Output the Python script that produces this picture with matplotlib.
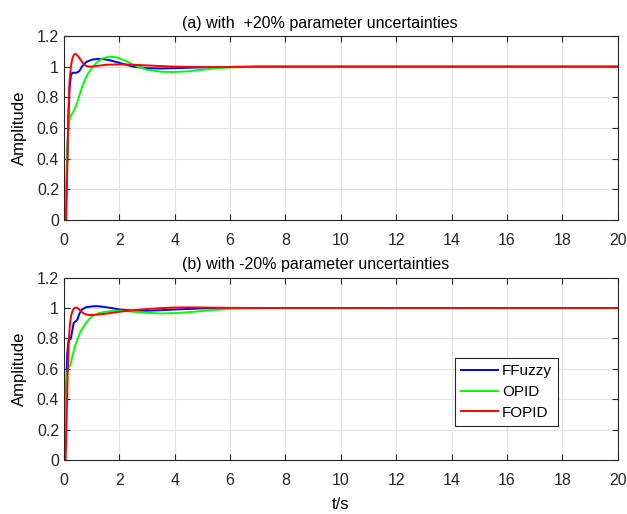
import matplotlib
matplotlib.use("Agg")
import matplotlib.pyplot as plt

# (a) +20% parameter uncertainties
ta_fuzzy = [0, 0.05, 0.1, 0.15, 0.2, 0.25, 0.3, 0.35, 0.45, 0.55, 0.65, 0.8, 1.0, 1.2,
            1.4, 1.7, 2.0, 2.5, 3.0, 3.5, 4.0, 5.0, 6.0, 7, 8, 20]
ya_fuzzy = [0, 0.0, 0.25, 0.6, 0.85, 0.94, 0.96, 0.96, 0.96, 0.97, 1.0, 1.03, 1.045, 1.05,
            1.05, 1.04, 1.025, 1.0, 0.99, 0.988, 0.99, 0.995, 0.998, 1.0, 1.0, 1.0]
ta_opid = [0, 0.05, 0.1, 0.15, 0.2, 0.25, 0.35, 0.45, 0.55, 0.7, 0.85, 1.0, 1.2, 1.4,
           1.65, 1.9, 2.2, 2.6, 3.0, 3.5, 4.0, 4.5, 5, 5.5, 6, 7, 8, 20]
ya_opid = [0, 0.0, 0.35, 0.58, 0.65, 0.68, 0.71, 0.75, 0.81, 0.89, 0.95, 0.99, 1.03, 1.055,
           1.065, 1.06, 1.04, 1.005, 0.98, 0.967, 0.965, 0.97, 0.98, 0.99, 0.995, 0.999, 1.0, 1.0]
ta_fopid = [0, 0.08, 0.12, 0.16, 0.2, 0.25, 0.3, 0.35, 0.4, 0.45, 0.5, 0.6, 0.7, 0.8,
            0.9, 1.0, 1.2, 1.5, 2.0, 2.5, 3.0, 3.5, 4.0, 5.0, 6.0, 7, 8, 20]
ya_fopid = [0, 0.0, 0.35, 0.7, 0.9, 1.0, 1.05, 1.075, 1.083, 1.08, 1.07, 1.045, 1.02, 1.005,
            1.0, 1.0, 1.005, 1.012, 1.015, 1.012, 1.008, 1.004, 1.0, 0.997, 0.998, 1.0, 1.0, 1.0]

# (b) -20% parameter uncertainties
tb_fuzzy = [0, 0.04, 0.08, 0.12, 0.16, 0.2, 0.25, 0.3, 0.35, 0.4, 0.45, 0.5, 0.55, 0.65,
            0.8, 1.0, 1.2, 1.4, 1.7, 2.0, 2.5, 3.0, 3.5, 4, 5, 6, 7, 8, 20]
yb_fuzzy = [0, 0.1, 0.45, 0.7, 0.78, 0.79, 0.8, 0.85, 0.9, 0.91, 0.915, 0.93, 0.96, 0.99,
            1.005, 1.01, 1.012, 1.008, 1.0, 0.99, 0.982, 0.982, 0.985, 0.99, 0.997, 1.0, 1.0, 1.0, 1.0]
tb_opid = [0, 0.04, 0.08, 0.12, 0.18, 0.24, 0.3, 0.4, 0.5, 0.6, 0.75, 0.9, 1.05, 1.25,
           1.5, 1.8, 2.1, 2.5, 3.0, 3.5, 4.0, 4.5, 5, 5.5, 6, 7, 8, 20]
yb_opid = [0, 0.15, 0.45, 0.58, 0.61, 0.63, 0.68, 0.75, 0.8, 0.845, 0.89, 0.925, 0.95, 0.965,
           0.975, 0.982, 0.982, 0.975, 0.968, 0.964, 0.966, 0.972, 0.98, 0.988, 0.994, 0.999, 1.0, 1.0]
tb_fopid = [0, 0.06, 0.1, 0.14, 0.18, 0.22, 0.26, 0.3, 0.35, 0.4, 0.45, 0.5, 0.55, 0.6,
            0.7, 0.8, 0.9, 1.0, 1.2, 1.5, 2.0, 2.5, 3.0, 3.5, 4.0, 4.5, 5, 6, 7, 8, 20]
yb_fopid = [0, 0.0, 0.3, 0.6, 0.8, 0.9, 0.95, 0.975, 0.995, 1.002, 1.003, 0.998, 0.99, 0.98,
            0.965, 0.957, 0.954, 0.953, 0.956, 0.962, 0.975, 0.985, 0.993, 0.999, 1.003, 1.004,
            1.003, 1.001, 1.0, 1.0, 1.0]

labels = ["FFuzzy", "OPID", "FOPID"]
colors = ["#0000ff", "#00ff00", "#ff0000"]
titles = ["(a) with  +20% parameter uncertainties", "(b) with -20% parameter uncertainties"]
xticks = [0, 2, 4, 6, 8, 10, 12, 14, 16, 18, 20]
yticks = [0, 0.2, 0.4, 0.6, 0.8, 1, 1.2]
ytick_labels = ["0", "0.2", "0.4", "0.6", "0.8", "1", "1.2"]

plt.rcParams.update({"font.family": "Liberation Sans", "font.size": 11})

fig = plt.figure(figsize=(6.27, 5.14), dpi=100)
ax_a = fig.add_axes([0.102, 0.572, 0.883, 0.358])
ax_b = fig.add_axes([0.102, 0.105, 0.883, 0.355])

panels = [
    (ax_a, [(ta_fuzzy, ya_fuzzy), (ta_opid, ya_opid), (ta_fopid, ya_fopid)]),
    (ax_b, [(tb_fuzzy, yb_fuzzy), (tb_opid, yb_opid), (tb_fopid, yb_fopid)]),
]

for (ax, series), title in zip(panels, titles):
    for (t, y), lab, c in zip(series, labels, colors):
        ax.plot(t, y, color=c, lw=1.4, label=lab)
    ax.set_xlim(0, 20)
    ax.set_ylim(0, 1.2)
    ax.set_xticks(xticks)
    ax.set_yticks(yticks)
    ax.set_yticklabels(ytick_labels)
    ax.grid(True, color="#e3e3e3", lw=0.8)
    ax.set_axisbelow(True)
    ax.tick_params(direction="in", top=True, right=True, length=4, width=0.8,
                   labelsize=11.5, colors="#262626")
    ax.tick_params(axis="x", pad=9.5)
    for s in ax.spines.values():
        s.set_color("#262626")
        s.set_linewidth(0.8)
    ax.set_ylabel("Amplitude", fontsize=12, labelpad=7)
    ax.set_title(title, fontsize=11.5, pad=6, x=0.213, ha="left")

ax_b.set_xlabel("t/s", fontsize=12, labelpad=6)
leg = ax_b.legend(loc="lower left", bbox_to_anchor=(0.706, 0.187, 0.186, 0.375),
                  mode="expand", fancybox=False, framealpha=1, edgecolor="#262626",
                  fontsize=11, handlelength=2.4, handletextpad=0.3, borderaxespad=0,
                  labelspacing=0.45, borderpad=0.4)
leg.get_frame().set_linewidth(0.8)

fig.savefig("out.png", dpi=100)
